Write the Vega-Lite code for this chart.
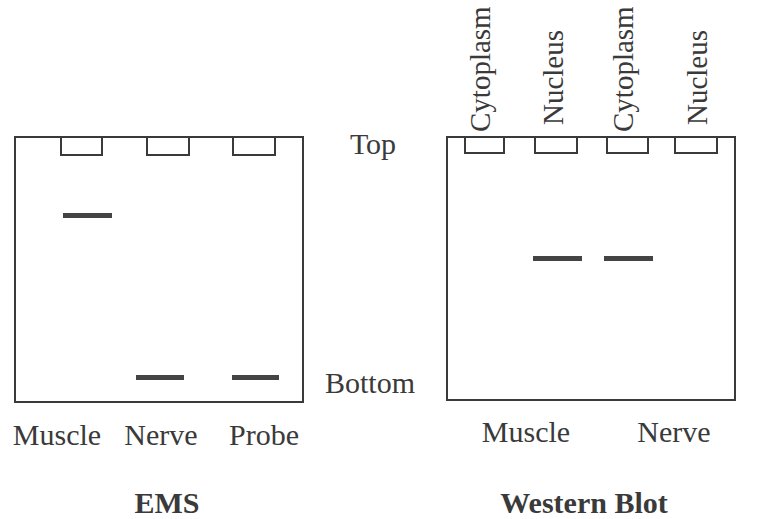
{
  "$schema": "https://vega.github.io/schema/vega-lite/v6.json",
  "width": 775,
  "height": 519,
  "autosize": {"type": "fit", "contains": "padding"},
  "padding": 0,
  "background": "white",
  "config": {"view": {"stroke": null}},
  "datasets": {
    "gels": [
      {"gel": "EMS", "left": 15, "right": 303, "top": 137, "bottom": 402},
      {"gel": "Western Blot", "left": 447, "right": 735, "top": 137, "bottom": 400}
    ],
    "wells": [
      {"gel": "EMS", "lane": "Muscle", "left": 61, "right": 102, "top": 137, "bottom": 155},
      {"gel": "EMS", "lane": "Nerve", "left": 147, "right": 189, "top": 137, "bottom": 155},
      {"gel": "EMS", "lane": "Probe", "left": 233, "right": 275, "top": 137, "bottom": 155},
      {"gel": "Western Blot", "lane": "Muscle Cytoplasm", "left": 465, "right": 504, "top": 137, "bottom": 153},
      {"gel": "Western Blot", "lane": "Muscle Nucleus", "left": 535, "right": 577, "top": 137, "bottom": 153},
      {"gel": "Western Blot", "lane": "Nerve Cytoplasm", "left": 607, "right": 648, "top": 137, "bottom": 153},
      {"gel": "Western Blot", "lane": "Nerve Nucleus", "left": 675, "right": 717, "top": 137, "bottom": 153}
    ],
    "bands": [
      {"gel": "EMS", "lane": "Muscle", "left": 63, "right": 112, "top": 213, "bottom": 218},
      {"gel": "EMS", "lane": "Nerve", "left": 136, "right": 184, "top": 375, "bottom": 380},
      {"gel": "EMS", "lane": "Probe", "left": 232, "right": 279, "top": 375, "bottom": 380},
      {"gel": "Western Blot", "lane": "Muscle Nucleus", "left": 533, "right": 582, "top": 256, "bottom": 261},
      {"gel": "Western Blot", "lane": "Nerve Cytoplasm", "left": 604, "right": 653, "top": 256, "bottom": 261}
    ],
    "labels": [
      {"text": "Top", "x": 373, "y": 154},
      {"text": "Bottom", "x": 370, "y": 393},
      {"text": "Muscle", "x": 57, "y": 445},
      {"text": "Nerve", "x": 161, "y": 445},
      {"text": "Probe", "x": 264, "y": 445},
      {"text": "Muscle", "x": 526, "y": 442},
      {"text": "Nerve", "x": 674, "y": 442}
    ],
    "titles": [
      {"text": "EMS", "x": 167, "y": 513},
      {"text": "Western Blot", "x": 584, "y": 513}
    ],
    "fractions": [
      {"text": "Cytoplasm", "x": 490, "y": 132},
      {"text": "Nucleus", "x": 563, "y": 125},
      {"text": "Cytoplasm", "x": 633, "y": 132},
      {"text": "Nucleus", "x": 707, "y": 125}
    ]
  },
  "layer": [
    {
      "data": {"name": "gels"},
      "mark": {"type": "rect", "fill": null, "stroke": "#3a3a3a", "strokeWidth": 2},
      "encoding": {
        "x": {"field": "left", "type": "quantitative", "scale": {"domain": [0, 775], "nice": false, "zero": false}, "axis": null},
        "x2": {"field": "right"},
        "y": {"field": "top", "type": "quantitative", "scale": {"domain": [0, 519], "reverse": true, "nice": false, "zero": false}, "axis": null},
        "y2": {"field": "bottom"}
      }
    },
    {
      "data": {"name": "wells"},
      "mark": {"type": "rect", "fill": null, "stroke": "#3a3a3a", "strokeWidth": 2},
      "encoding": {
        "x": {"field": "left", "type": "quantitative"},
        "x2": {"field": "right"},
        "y": {"field": "top", "type": "quantitative"},
        "y2": {"field": "bottom"}
      }
    },
    {
      "data": {"name": "bands"},
      "mark": {"type": "rect", "fill": "#444444"},
      "encoding": {
        "x": {"field": "left", "type": "quantitative"},
        "x2": {"field": "right"},
        "y": {"field": "top", "type": "quantitative"},
        "y2": {"field": "bottom"}
      }
    },
    {
      "data": {"name": "labels"},
      "mark": {"type": "text", "font": "Liberation Serif", "fontSize": 30, "color": "#3a3a3a", "align": "center", "baseline": "alphabetic"},
      "encoding": {
        "x": {"field": "x", "type": "quantitative"},
        "y": {"field": "y", "type": "quantitative"},
        "text": {"field": "text"}
      }
    },
    {
      "data": {"name": "titles"},
      "mark": {"type": "text", "font": "Liberation Serif", "fontSize": 30, "fontWeight": "bold", "color": "#3a3a3a", "align": "center", "baseline": "alphabetic"},
      "encoding": {
        "x": {"field": "x", "type": "quantitative"},
        "y": {"field": "y", "type": "quantitative"},
        "text": {"field": "text"}
      }
    },
    {
      "data": {"name": "fractions"},
      "mark": {"type": "text", "font": "Liberation Serif", "fontSize": 29, "color": "#3a3a3a", "align": "left", "baseline": "alphabetic", "angle": 270},
      "encoding": {
        "x": {"field": "x", "type": "quantitative"},
        "y": {"field": "y", "type": "quantitative"},
        "text": {"field": "text"}
      }
    }
  ]
}
